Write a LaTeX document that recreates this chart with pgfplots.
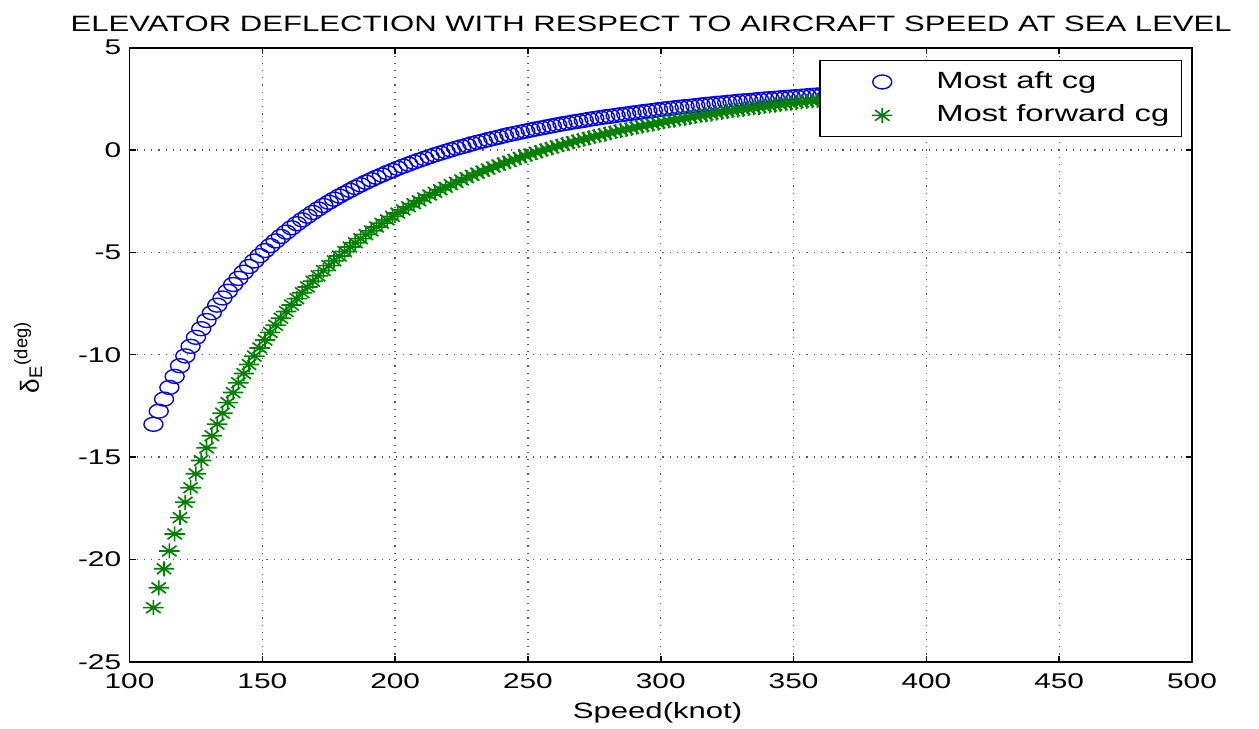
\documentclass[border=0pt]{standalone}
\usepackage{fontspec}
\setmainfont{Liberation Sans}[FakeStretch=1.4]
\newfontfamily\ylabfont{Liberation Sans}
\usepackage{pgfplots}
\usepackage{pgfplotstable}
\pgfplotsset{compat=1.18}
\definecolor{mblue}{rgb}{0,0,1}
\definecolor{mgreen}{rgb}{0,0.5,0}
\pgfdeclareplotmark{ell}{%
  \pgfpathellipse{\pgfpointorigin}{\pgfqpoint{1.36\pgfplotmarksize}{0pt}}{\pgfqpoint{0pt}{\pgfplotmarksize}}%
  \pgfusepathqstroke}
\pgfdeclareplotmark{mstar}{%
  \pgfpathmoveto{\pgfqpoint{-1.36\pgfplotmarksize}{0pt}}\pgfpathlineto{\pgfqpoint{1.36\pgfplotmarksize}{0pt}}%
  \pgfpathmoveto{\pgfqpoint{0pt}{-\pgfplotmarksize}}\pgfpathlineto{\pgfqpoint{0pt}{\pgfplotmarksize}}%
  \pgfpathmoveto{\pgfqpoint{-0.96\pgfplotmarksize}{-0.707\pgfplotmarksize}}\pgfpathlineto{\pgfqpoint{0.96\pgfplotmarksize}{0.707\pgfplotmarksize}}%
  \pgfpathmoveto{\pgfqpoint{-0.96\pgfplotmarksize}{0.707\pgfplotmarksize}}\pgfpathlineto{\pgfqpoint{0.96\pgfplotmarksize}{-0.707\pgfplotmarksize}}%
  \pgfusepathqstroke}
\pgfplotsset{mylegimg/.style={legend image code/.code={\path[draw=none,fill=none] (0pt,-1pt) rectangle (34.7pt,1pt); \draw[mark repeat=2,mark phase=2,##1] plot coordinates {(0pt,0pt) (18.7pt,0pt) (34.7pt,0pt)};}}}
\pgfplotstableread{
V aft fwd
109 -13.40 -22.36
111 -12.76 -21.39
113 -12.17 -20.46
115 -11.60 -19.59
117 -11.06 -18.76
119 -10.54 -17.96
121 -10.06 -17.21
123 -9.59 -16.50
125 -9.15 -15.82
127 -8.73 -15.17
129 -8.33 -14.55
131 -7.95 -13.96
133 -7.58 -13.39
135 -7.23 -12.86
137 -6.90 -12.34
139 -6.57 -11.85
141 -6.27 -11.37
143 -5.97 -10.92
145 -5.69 -10.48
147 -5.42 -10.07
149 -5.16 -9.67
151 -4.91 -9.28
153 -4.67 -8.91
155 -4.44 -8.56
157 -4.22 -8.22
159 -4.01 -7.89
161 -3.80 -7.57
163 -3.60 -7.26
165 -3.41 -6.97
167 -3.23 -6.69
169 -3.05 -6.41
171 -2.88 -6.15
173 -2.71 -5.89
175 -2.55 -5.65
177 -2.40 -5.41
179 -2.25 -5.18
181 -2.11 -4.96
183 -1.97 -4.74
185 -1.83 -4.53
187 -1.70 -4.33
189 -1.57 -4.13
191 -1.45 -3.95
193 -1.33 -3.76
195 -1.22 -3.58
197 -1.10 -3.41
199 -1.00 -3.24
201 -0.89 -3.08
203 -0.79 -2.92
205 -0.69 -2.77
207 -0.59 -2.62
209 -0.50 -2.48
211 -0.41 -2.34
213 -0.32 -2.20
215 -0.23 -2.07
217 -0.15 -1.94
219 -0.07 -1.82
221 0.01 -1.69
223 0.09 -1.58
225 0.16 -1.46
227 0.23 -1.35
229 0.31 -1.24
231 0.38 -1.13
233 0.44 -1.03
235 0.51 -0.93
237 0.57 -0.83
239 0.63 -0.73
241 0.70 -0.64
243 0.76 -0.55
245 0.81 -0.46
247 0.87 -0.37
249 0.92 -0.28
251 0.98 -0.20
253 1.03 -0.12
255 1.08 -0.04
257 1.13 0.04
259 1.18 0.11
261 1.23 0.19
263 1.28 0.26
265 1.32 0.33
267 1.37 0.40
269 1.41 0.47
271 1.45 0.53
273 1.50 0.60
275 1.54 0.66
277 1.58 0.72
279 1.62 0.78
281 1.65 0.84
283 1.69 0.90
285 1.73 0.96
287 1.76 1.01
289 1.80 1.06
291 1.83 1.12
293 1.87 1.17
295 1.90 1.22
297 1.93 1.27
299 1.97 1.32
301 2.00 1.37
303 2.03 1.42
305 2.06 1.46
307 2.09 1.51
309 2.12 1.55
311 2.14 1.59
313 2.17 1.64
315 2.20 1.68
317 2.23 1.72
319 2.25 1.76
321 2.28 1.80
323 2.30 1.84
325 2.33 1.88
327 2.35 1.92
329 2.38 1.95
331 2.40 1.99
333 2.42 2.02
335 2.44 2.06
337 2.47 2.09
339 2.49 2.13
341 2.51 2.16
343 2.53 2.19
345 2.55 2.22
347 2.57 2.25
349 2.59 2.29
351 2.61 2.32
353 2.63 2.35
355 2.65 2.38
357 2.67 2.40
359 2.69 2.43
361 2.70 2.46
363 2.72 2.49
365 2.74 2.51
367 2.76 2.54
369 2.77 2.57
}\elev
\begin{document}
\begin{tikzpicture}
\path[use as bounding box] (-43.17pt,-22.43pt) rectangle (376.5pt,220.57pt);
\begin{axis}[
  scale only axis,
  width=354.17pt, height=204.67pt,
  at={(0,0)}, anchor=south west,
  xmin=100, xmax=500, ymin=-25, ymax=5,
  xtick={100,150,...,500}, ytick={-25,-20,...,5},
  grid=major,
  major grid style={dotted, black!65, line width=0.45pt},
  axis line style={black, line width=0.6pt},
  tick align=inside, xtick pos=both, ytick pos=both,
  major tick length=2pt,
  tick style={black, line width=0.5pt},
  /pgf/number format/assume math mode=true,
  ticklabel style={font=\fontsize{7.1}{8.5}\selectfont},
  xticklabel style={anchor=base, yshift=-8.8pt},
  yticklabel style={inner xsep=2.6pt},
  every axis title/.style={font=\fontsize{7.4}{9}\selectfont, at={(axis description cs:0.491,1)}, anchor=base, yshift=5.3pt, inner sep=0pt},
  title={ELEVATOR DEFLECTION WITH RESPECT TO AIRCRAFT SPEED AT SEA LEVEL},
  xlabel={Speed(knot)},
  xlabel style={font=\fontsize{7.4}{9}\selectfont, at={(axis description cs:0.497,0)}, anchor=base, yshift=-18.8pt, inner sep=0pt},
  ylabel={\ylabfont\fontsize{8.7}{10}\selectfont δ\textsubscript{E}\textsuperscript{(deg)}},
  ylabel style={at={(axis description cs:-0.0955,0.496)}, anchor=center, inner sep=0pt},
  legend style={at={(axis description cs:0.9906,0.980)}, anchor=north east,
    draw=black, line width=0.5pt, fill=white, inner xsep=2pt, inner ysep=1.5pt,
    font=\fontsize{7.8}{9.4}\selectfont,
    nodes={inner xsep=2pt, inner ysep=2pt}},
  legend cell align=left,
]
\addplot[only marks, mark=ell, mark size=2.33pt, draw=mblue, line width=0.45pt, mylegimg] table[x=V, y=aft] {\elev};
\addlegendentry{Most aft cg}
\addplot[only marks, mark=mstar, mark size=2.5pt, draw=mgreen, line width=0.55pt, mylegimg] table[x=V, y=fwd] {\elev};
\addlegendentry{Most forward cg}
\end{axis}
\end{tikzpicture}
\end{document}
